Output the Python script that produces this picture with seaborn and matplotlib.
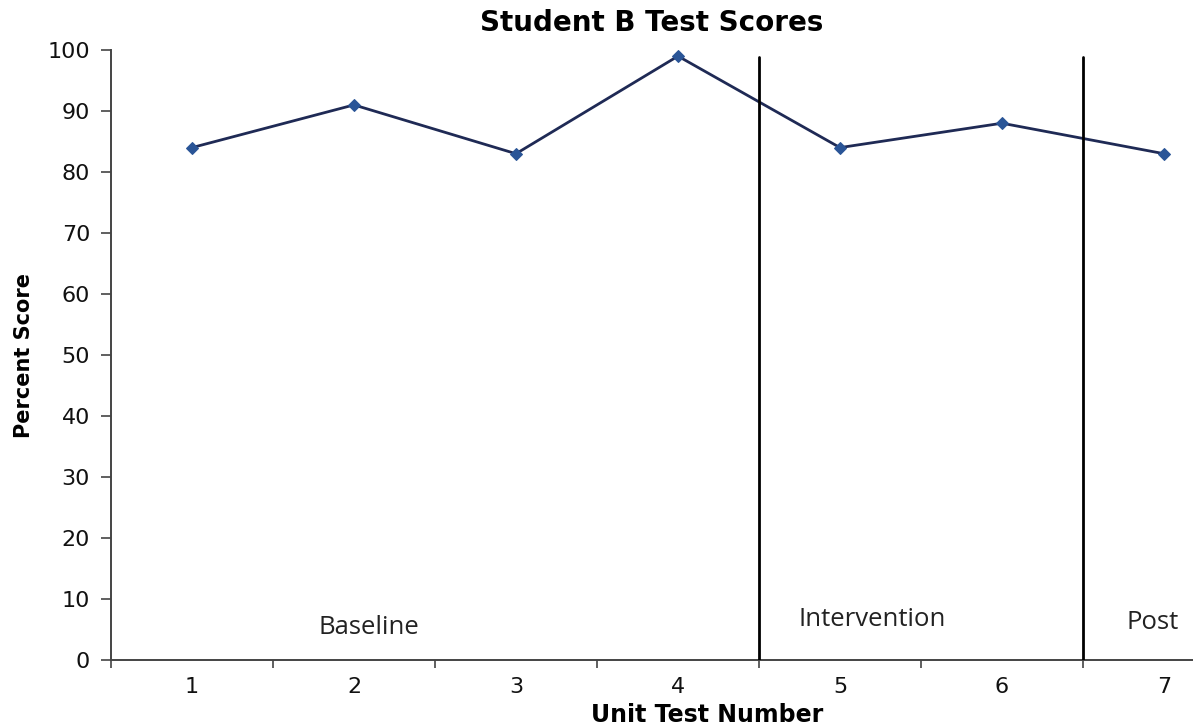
import matplotlib
matplotlib.use("Agg")
import matplotlib.pyplot as plt
import seaborn as sns
import pandas as pd
import numpy as np

# Unit test scores for Student B
tests = [1, 2, 3, 4, 5, 6, 7]
scores = [84, 91, 83, 99, 84, 88, 83]
phase_bounds = [4.5, 6.5]
phase_labels = ["Baseline", "Intervention", "Post"]
phase_label_x = [2.09, 5.20, 6.93]
phase_label_y = [5.4, 6.7, 6.1]

df = pd.DataFrame({"Unit Test Number": tests, "Percent Score": scores})

sns.set_style("white")
plt.rcParams["font.family"] = ["DejaVu Sans"]

fig = plt.figure(figsize=(11.93, 7.27), dpi=100)
ax = fig.add_axes([0.093, 0.0922, 0.9506, 0.839])

sns.lineplot(data=df, x="Unit Test Number", y="Percent Score", ax=ax,
             color="#1f2a55", linewidth=2.0, marker="D", markersize=6,
             markerfacecolor="#2a5597", markeredgecolor="#2a5597")

# phase change lines
for b in phase_bounds:
    ax.plot([b, b], [0, 98.8], color="black", linewidth=2.0, zorder=3)

for lbl, lx, ly in zip(phase_labels, phase_label_x, phase_label_y):
    ax.text(lx, ly, lbl, ha="center", va="center", fontsize=18.5,
            family="Open Sans", color="#222222")

ax.set_xlim(0.5, 7.5)
ax.set_ylim(0, 100)
ax.set_yticks(np.arange(0, 101, 10))
ax.set_xticks(tests)
ax.set_xticks(np.arange(0.5, 7.6, 1.0), minor=True)
ax.tick_params(axis="x", which="major", length=0, pad=12, labelsize=16,
               labelcolor="#111111")
ax.tick_params(axis="x", which="minor", length=6, width=1.2, color="#444444",
               direction="out", bottom=True)
ax.tick_params(axis="y", which="major", length=7, width=1.2, color="#444444",
               direction="out", left=True, labelsize=16, pad=8,
               labelcolor="#111111")

for side in ["top", "right"]:
    ax.spines[side].set_visible(False)
for side in ["left", "bottom"]:
    ax.spines[side].set_color("#444444")
    ax.spines[side].set_linewidth(1.4)

ax.set_xlabel("")
ax.set_ylabel("")
fig.text(0.593, 0.0, "Unit Test Number", ha="center", va="bottom",
         fontsize=17, fontweight="bold", color="black")
fig.text(0.020, 0.511, "Percent Score", ha="center", va="center",
         rotation=90, fontsize=15, fontweight="bold", color="black")
fig.text(0.546, 0.968, "Student B Test Scores", ha="center", va="center",
         fontsize=20, fontweight="bold", color="black")

fig.savefig("out.png", dpi=100)
